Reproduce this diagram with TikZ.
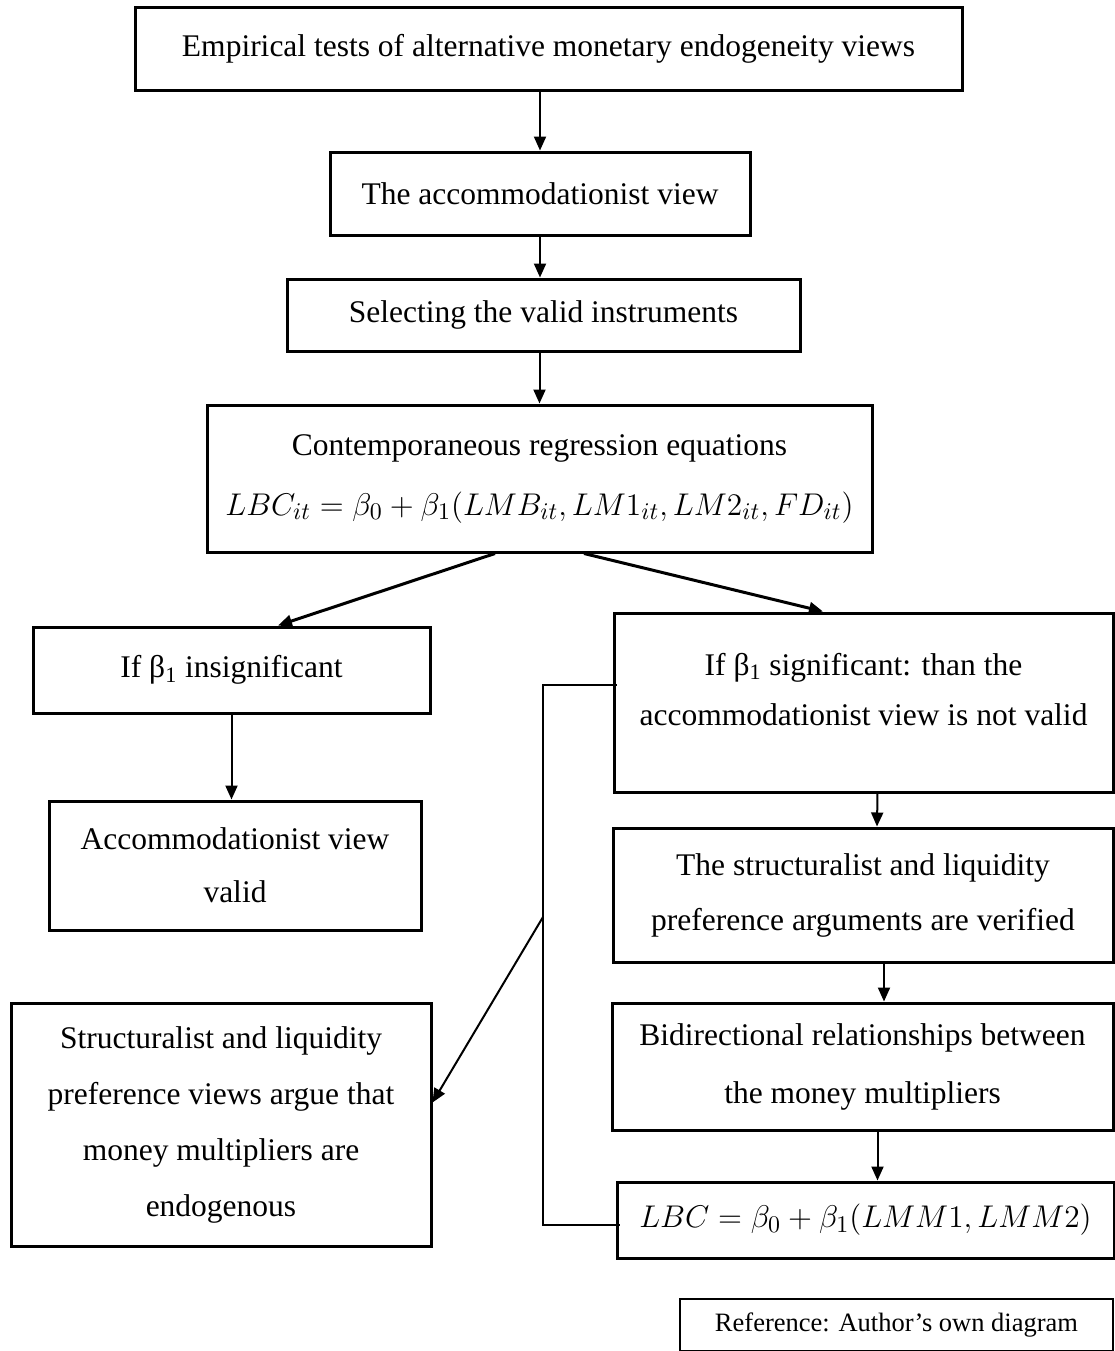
\documentclass[tikz,border=0pt]{standalone}
\usepackage{graphicx}
\usepackage{fontspec}
\setmainfont{Liberation Serif}
\usetikzlibrary{arrows.meta}

\begin{document}
\begin{tikzpicture}[x=0.5pt,y=-0.5pt,
    box/.style={draw, line width=1.5pt, align=center, inner sep=0pt,
      font=\fontsize{15.75}{27}\selectfont},
    arr/.style={-{Triangle[length=7pt,width=6pt]}, line width=1pt},
    bigarr/.style={-{Triangle[length=7pt,width=6pt]}, line width=1.5pt},
    link/.style={line width=0.8pt}]
  \useasboundingbox (0,0) rectangle (1115,1351);

  % main column
  \node[box, minimum width=413.5pt, minimum height=41.5pt] (tests) at (548.5,48.5)
    {Empirical tests of alternative monetary endogeneity views};
  \node[box, minimum width=210pt, minimum height=41.5pt] (accview) at (540,193.5)
    {The accommodationist view};
  \node[box, minimum width=256.5pt, minimum height=36pt] (select) at (543.5,315)
    {Selecting the valid instruments};
  \node[box, minimum width=332.5pt, minimum height=73.5pt, font=\fontsize{15.75}{30}\selectfont] (contemp) at (539.5,478.5)
    {Contemporaneous regression equations\\
     \scalebox{1.09}{$LBC_{it} = \beta_0 + \beta_1(LMB_{it}, LM1_{it}, LM2_{it}, FD_{it})$}};

  % left branch
  \node[box, minimum width=198.5pt, minimum height=43pt] (insig) at (231.5,670)
    {If β\textsubscript{1} insignificant};
  \node[box, minimum width=186pt, minimum height=64.5pt, font=\fontsize{15.75}{26.5}\selectfont] (accvalid) at (235,865.5)
    {Accommodationist view\\valid};
  \node[box, minimum width=210pt, minimum height=121.5pt, font=\fontsize{15.75}{28}\selectfont] (structviews) at (221,1124.5)
    {Structuralist and liquidity\\preference views argue that\\money multipliers are\\endogenous};

  % right branch
  \node[box, minimum width=249.5pt, minimum height=89.5pt, font=\fontsize{15.75}{25}\selectfont] (sig) at (863.5,702.5)
    {If β\textsubscript{1} significant: than the\\accommodationist view is not valid\\[-11.5pt]\mbox{}};
  \node[box, minimum width=250pt, minimum height=67pt, font=\fontsize{15.75}{27.5}\selectfont] (verified) at (863,895)
    {The structuralist and liquidity\\preference arguments are verified};
  \node[box, minimum width=250.5pt, minimum height=63.5pt, font=\fontsize{15.75}{29}\selectfont] (bidir) at (862.5,1066.5)
    {Bidirectional relationships between\\the money multipliers};
  \node[box, minimum width=248.5pt, minimum height=38pt] (lbc) at (865.5,1220)
    {\scalebox{1.09}{$LBC = \beta_0 + \beta_1(LMM1, LMM2)$}};

  \node[draw, line width=0.6pt, minimum width=216.5pt, minimum height=26pt,
    font=\fontsize{13.25}{16}\selectfont] (source) at (896.5,1325)
    {Reference: Author’s own diagram};

  % arrows
  \draw[arr] (accview.north |- tests.south) -- (accview.north);
  \draw[arr] (accview.south) -- (accview.south |- select.north);
  \draw[arr] (select.south -| contemp.north) -- (contemp.north);
  \draw[bigarr] ([xshift=-22.25pt]contemp.south) -- ([xshift=23.25pt]insig.north);
  \draw[bigarr] ([xshift=22.25pt]contemp.south) -- ([xshift=-20.25pt]sig.north);
  \draw[arr] (insig.south) -- (insig.south |- accvalid.north);
  \draw[arr] ([xshift=7pt]sig.south) -- ([xshift=7pt]verified.north);
  \draw[arr] ([xshift=10.5pt]verified.south) -- ([xshift=10.5pt]verified.south |- bidir.north);
  \draw[arr] ([xshift=7.5pt]bidir.south) -- ([xshift=6pt]lbc.north);

  % side link
  \coordinate (ltop) at (543,685);
  \coordinate (lmid) at (543,917);
  \coordinate (lbot) at (543,1225);
  \draw[link] ([yshift=8.75pt,xshift=2pt]sig.west) -- (ltop) -- (lbot) -- ([xshift=2pt]lbot -| lbc.west);
  \draw[arr] (lmid) -- ([yshift=11pt]structviews.east);
\end{tikzpicture}
\end{document}
